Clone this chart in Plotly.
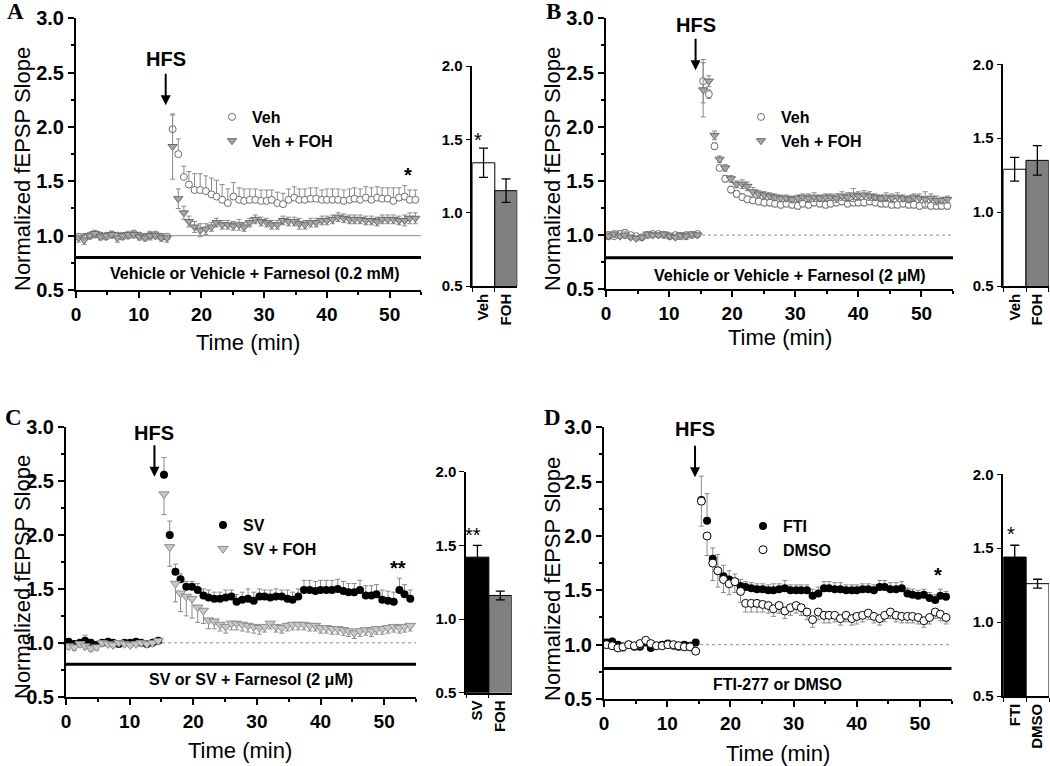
import plotly.graph_objects as go

# ---------------- data ----------------
t_base = [0.4, 1.3, 2.2, 3.0, 3.9, 4.8, 5.7, 6.6, 7.4, 8.3, 9.2, 10.1, 11.0, 11.8, 12.7, 13.6, 14.5]
t_post = [15.4, 16.3, 17.2, 18.0, 18.9, 19.8, 20.7, 21.6, 22.4, 23.3,
          24.2, 25.1, 26.0, 26.8, 27.7, 28.6, 29.5, 30.4, 31.2, 32.1,
          33.0, 33.9, 34.8, 35.6, 36.5, 37.4, 38.3, 39.2, 40.0, 40.9,
          41.8, 42.7, 43.6, 44.4, 45.3, 46.2, 47.1, 48.0, 48.8, 49.7,
          50.6, 51.5, 52.4, 53.2, 54.1]

# Panel A
a_veh_base = [0.99, 0.98, 1.00, 1.01, 1.00, 0.99, 1.01, 1.00, 0.99, 1.00, 1.02, 1.00, 0.99, 1.00, 1.01, 0.99, 0.99]
a_veh_base_err = [0.03, 0.04, 0.02, 0.03, 0.03, 0.02, 0.03, 0.02, 0.03, 0.02, 0.02, 0.03, 0.02, 0.03, 0.02, 0.03, 0.03]
a_veh_post = [1.98, 1.75, 1.54, 1.47, 1.42, 1.42, 1.41, 1.38, 1.36, 1.33,
              1.30, 1.36, 1.33, 1.32, 1.33, 1.33, 1.32, 1.32, 1.33, 1.30,
              1.29, 1.33, 1.35, 1.33, 1.33, 1.34, 1.34, 1.33, 1.33, 1.33,
              1.33, 1.32, 1.33, 1.34, 1.33, 1.35, 1.33, 1.35, 1.34, 1.34,
              1.32, 1.35, 1.36, 1.33, 1.33]
a_veh_post_err = [0.13, 0.14, 0.10, 0.12, 0.15, 0.15, 0.14, 0.15, 0.15, 0.14,
                  0.13, 0.13, 0.11, 0.11, 0.10, 0.10, 0.10, 0.10, 0.09, 0.10,
                  0.10, 0.10, 0.10, 0.10, 0.10, 0.10, 0.10, 0.09, 0.10, 0.10,
                  0.10, 0.10, 0.10, 0.10, 0.10, 0.10, 0.11, 0.10, 0.10, 0.10,
                  0.12, 0.09, 0.10, 0.09, 0.09]
a_foh_base = [0.98, 0.96, 1.00, 1.02, 0.99, 1.00, 1.01, 0.98, 1.00, 1.01, 1.01, 0.99, 0.98, 1.00, 1.00, 0.98, 0.98]
a_foh_base_err = [0.04, 0.04, 0.03, 0.03, 0.03, 0.03, 0.03, 0.04, 0.03, 0.03, 0.03, 0.03, 0.03, 0.04, 0.03, 0.03, 0.04]
a_foh_post = [1.82, 1.34, 1.21, 1.13, 1.08, 1.05, 1.06, 1.08, 1.12, 1.10,
              1.10, 1.09, 1.10, 1.08, 1.12, 1.15, 1.13, 1.12, 1.10, 1.10,
              1.14, 1.13, 1.13, 1.11, 1.10, 1.12, 1.12, 1.14, 1.14, 1.15,
              1.17, 1.16, 1.15, 1.15, 1.15, 1.14, 1.14, 1.13, 1.15, 1.15,
              1.15, 1.14, 1.14, 1.16, 1.16]
a_foh_post_err = [0.30, 0.09, 0.06, 0.05, 0.05, 0.06, 0.05, 0.04, 0.04, 0.04,
                  0.04, 0.04, 0.05, 0.04, 0.04, 0.04, 0.04, 0.04, 0.04, 0.04,
                  0.04, 0.04, 0.04, 0.05, 0.04, 0.04, 0.04, 0.04, 0.04, 0.04,
                  0.04, 0.04, 0.04, 0.04, 0.04, 0.04, 0.04, 0.04, 0.04, 0.04,
                  0.04, 0.04, 0.05, 0.05, 0.05]

# Panel B
b_veh_base = [1.00, 0.99, 1.01, 1.02, 1.00, 0.99, 0.98, 1.00, 1.01, 1.01, 1.00, 0.99, 1.00, 0.99, 1.00, 1.00, 1.01]
b_veh_base_err = [0.03, 0.02, 0.03, 0.03, 0.02, 0.02, 0.02, 0.02, 0.02, 0.02, 0.02, 0.02, 0.02, 0.03, 0.02, 0.02, 0.02]
b_veh_post = [2.42, 2.30, 1.82, 1.62, 1.52, 1.42, 1.38, 1.35, 1.33, 1.32,
              1.31, 1.30, 1.30, 1.29, 1.28, 1.29, 1.28, 1.27, 1.29, 1.28,
              1.30, 1.29, 1.28, 1.29, 1.30, 1.31, 1.29, 1.30, 1.30, 1.30,
              1.31, 1.30, 1.29, 1.29, 1.28, 1.28, 1.29, 1.28, 1.28, 1.27,
              1.28, 1.27, 1.27, 1.27, 1.27]
b_veh_post_err = [0.20, 0.04, 0.03, 0.02, 0.03, 0.03, 0.03, 0.03, 0.03, 0.03,
                  0.03, 0.03, 0.03, 0.03, 0.03, 0.03, 0.03, 0.03, 0.03, 0.03,
                  0.03, 0.03, 0.03, 0.03, 0.03, 0.03, 0.03, 0.03, 0.03, 0.03,
                  0.03, 0.03, 0.03, 0.03, 0.03, 0.03, 0.03, 0.03, 0.03, 0.03,
                  0.03, 0.03, 0.03, 0.03, 0.03]
b_foh_base = [0.99, 1.01, 0.99, 1.00, 0.98, 0.97, 0.98, 1.01, 1.00, 1.00, 1.01, 0.99, 0.98, 1.00, 0.99, 1.01, 1.00]
b_foh_base_err = [0.03, 0.03, 0.02, 0.03, 0.02, 0.02, 0.02, 0.02, 0.02, 0.02, 0.02, 0.02, 0.02, 0.02, 0.03, 0.02, 0.02]
b_foh_post = [2.34, 2.42, 1.92, 1.70, 1.62, 1.52, 1.47, 1.47, 1.45, 1.40,
              1.38, 1.37, 1.36, 1.35, 1.34, 1.34, 1.33, 1.34, 1.35, 1.34,
              1.35, 1.34, 1.35, 1.35, 1.34, 1.36, 1.35, 1.37, 1.36, 1.37,
              1.36, 1.35, 1.34, 1.35, 1.34, 1.35, 1.34, 1.33, 1.35, 1.34,
              1.33, 1.34, 1.32, 1.32, 1.33]
b_foh_post_err = [0.25, 0.05, 0.04, 0.03, 0.03, 0.03, 0.03, 0.04, 0.04, 0.04,
                  0.03, 0.03, 0.03, 0.03, 0.03, 0.03, 0.03, 0.03, 0.03, 0.04,
                  0.04, 0.03, 0.03, 0.03, 0.04, 0.04, 0.04, 0.06, 0.04, 0.04,
                  0.04, 0.03, 0.03, 0.04, 0.04, 0.04, 0.03, 0.03, 0.03, 0.04,
                  0.07, 0.04, 0.04, 0.03, 0.03]

# Panel C
c_sv_base = [1.01, 0.99, 1.00, 1.02, 1.00, 0.98, 1.00, 1.01, 1.00, 0.99, 1.00, 1.00, 1.01, 1.00, 0.99, 1.00, 1.02]
c_sv_base_err = [0.03, 0.03, 0.03, 0.05, 0.03, 0.03, 0.02, 0.02, 0.02, 0.02, 0.02, 0.02, 0.02, 0.02, 0.02, 0.02, 0.02]
c_sv_post = [2.56, 2.00, 1.66, 1.59, 1.52, 1.52, 1.49, 1.44, 1.42, 1.41,
             1.41, 1.42, 1.43, 1.38, 1.40, 1.41, 1.39, 1.43, 1.43, 1.42,
             1.43, 1.43, 1.41, 1.40, 1.43, 1.49, 1.49, 1.48, 1.49, 1.49,
             1.49, 1.50, 1.48, 1.47, 1.47, 1.49, 1.44, 1.44, 1.45, 1.40,
             1.39, 1.38, 1.49, 1.45, 1.41]
c_sv_post_err = [0.16, 0.13, 0.07, 0.05, 0.05, 0.05, 0.06, 0.06, 0.07, 0.06,
                 0.06, 0.07, 0.06, 0.07, 0.07, 0.09, 0.08, 0.07, 0.06, 0.07,
                 0.07, 0.06, 0.08, 0.07, 0.07, 0.09, 0.09, 0.09, 0.09, 0.09,
                 0.09, 0.09, 0.09, 0.08, 0.08, 0.09, 0.09, 0.09, 0.09, 0.09,
                 0.09, 0.09, 0.11, 0.09, 0.08]
c_foh_base = [0.97, 0.96, 0.99, 0.97, 0.95, 0.96, 1.00, 0.99, 0.98, 1.00, 0.99, 0.98, 0.99, 1.00, 0.99, 1.00, 1.02]
c_foh_base_err = [0.03, 0.03, 0.03, 0.03, 0.03, 0.03, 0.02, 0.02, 0.02, 0.02, 0.02, 0.02, 0.02, 0.02, 0.02, 0.02, 0.02]
c_foh_post = [2.38, 1.89, 1.55, 1.46, 1.43, 1.41, 1.33, 1.30, 1.21, 1.20,
              1.17, 1.15, 1.18, 1.18, 1.17, 1.16, 1.15, 1.14, 1.15, 1.18,
              1.15, 1.14, 1.16, 1.17, 1.17, 1.17, 1.16, 1.16, 1.14, 1.14,
              1.13, 1.13, 1.12, 1.11, 1.09, 1.11, 1.12, 1.11, 1.13, 1.13,
              1.14, 1.15, 1.14, 1.15, 1.16]
c_foh_post_err = [0.19, 0.18, 0.17, 0.17, 0.18, 0.18, 0.14, 0.12, 0.08, 0.07,
                  0.06, 0.06, 0.06, 0.06, 0.06, 0.06, 0.06, 0.06, 0.05, 0.05,
                  0.05, 0.05, 0.05, 0.05, 0.05, 0.05, 0.05, 0.05, 0.05, 0.05,
                  0.05, 0.05, 0.05, 0.05, 0.05, 0.05, 0.05, 0.05, 0.05, 0.05,
                  0.05, 0.05, 0.05, 0.05, 0.05]

# Panel D
d_fti_base = [1.02, 1.03, 1.00, 0.98, 1.00, 0.98, 0.98, 1.02, 0.97, 0.99, 1.00, 1.01, 0.99, 0.98, 1.00, 0.99, 1.02]
d_fti_base_err = [0.03, 0.03, 0.02, 0.03, 0.03, 0.03, 0.02, 0.02, 0.03, 0.02, 0.02, 0.02, 0.02, 0.03, 0.02, 0.02, 0.02]
d_fti_post = [2.33, 2.14, 1.79, 1.68, 1.63, 1.60, 1.58, 1.54, 1.53, 1.52,
              1.51, 1.51, 1.50, 1.50, 1.51, 1.52, 1.50, 1.50, 1.50, 1.50,
              1.45, 1.47, 1.52, 1.52, 1.51, 1.51, 1.50, 1.50, 1.50, 1.51,
              1.51, 1.50, 1.53, 1.53, 1.51, 1.51, 1.52, 1.47, 1.46, 1.45,
              1.46, 1.43, 1.41, 1.45, 1.44]
d_fti_post_err = [0.22, 0.25, 0.10, 0.15, 0.10, 0.08, 0.07, 0.06, 0.05, 0.05,
                  0.05, 0.05, 0.05, 0.06, 0.05, 0.07, 0.05, 0.05, 0.05, 0.05,
                  0.06, 0.06, 0.06, 0.06, 0.06, 0.06, 0.05, 0.05, 0.05, 0.05,
                  0.05, 0.05, 0.06, 0.06, 0.06, 0.06, 0.06, 0.05, 0.05, 0.05,
                  0.05, 0.05, 0.05, 0.06, 0.05]
d_dmso_base = [1.00, 0.99, 0.97, 0.98, 1.00, 0.99, 1.01, 1.04, 1.01, 0.99, 0.99, 1.00, 1.00, 0.99, 0.98, 0.98, 0.94]
d_dmso_base_err = [0.03, 0.03, 0.03, 0.04, 0.03, 0.03, 0.04, 0.03, 0.03, 0.03, 0.03, 0.03, 0.03, 0.03, 0.03, 0.03, 0.03]
d_dmso_post = [2.32, 2.00, 1.75, 1.68, 1.60, 1.56, 1.58, 1.49, 1.38, 1.38,
               1.38, 1.37, 1.36, 1.33, 1.36, 1.31, 1.34, 1.36, 1.34, 1.30,
               1.23, 1.30, 1.27, 1.27, 1.27, 1.24, 1.27, 1.24, 1.26, 1.27,
               1.29, 1.26, 1.24, 1.27, 1.30, 1.27, 1.26, 1.26, 1.26, 1.25,
               1.22, 1.25, 1.30, 1.28, 1.25]
d_dmso_post_err = [0.23, 0.18, 0.16, 0.15, 0.12, 0.10, 0.10, 0.10, 0.08, 0.08,
                   0.08, 0.07, 0.07, 0.07, 0.07, 0.07, 0.07, 0.07, 0.07, 0.07,
                   0.07, 0.07, 0.07, 0.07, 0.06, 0.06, 0.06, 0.06, 0.07, 0.06,
                   0.06, 0.06, 0.06, 0.06, 0.06, 0.06, 0.06, 0.06, 0.06, 0.06,
                   0.06, 0.06, 0.06, 0.06, 0.06]

# Inset bar charts (mean, SEM)
bar_a_cats = ["Veh", "FOH"]; bar_a_vals = [1.34, 1.15]; bar_a_err = [0.10, 0.08]
bar_b_cats = ["Veh", "FOH"]; bar_b_vals = [1.29, 1.35]; bar_b_err = [0.08, 0.10]
bar_c_cats = ["SV", "FOH"];  bar_c_vals = [1.42, 1.16]; bar_c_err = [0.08, 0.03]
bar_d_cats = ["FTI", "DMSO"]; bar_d_vals = [1.44, 1.26]; bar_d_err = [0.08, 0.03]

x_ticks = [0, 10, 20, 30, 40, 50]
x_minor = [5, 15, 25, 35, 45, 55]

# ---------------- layout helpers ----------------
W, H = 1050, 766
FONT = "Liberation Sans, Arial, sans-serif"
SERIF = "Liberation Serif, Times New Roman, serif"
ERRC = "#8a8a8a"

def dx(a, b):
    return [a / W, b / W]

def dy(top, bottom):
    return [1 - bottom / H, 1 - top / H]

fig = go.Figure()

def zeros(n):
    return [0] * n

def add_series(ax, name, legend, base, base_err, post, post_err, marker, direction):
    xs = t_base + t_post
    ys = base + post
    es = base_err + post_err
    n = len(ys)
    if direction == "up":
        err = dict(type="data", symmetric=False, array=es, arrayminus=zeros(n))
    elif direction == "down":
        err = dict(type="data", symmetric=False, array=zeros(n), arrayminus=es)
    else:
        err = dict(type="data", symmetric=True, array=es)
    err.update(color=ERRC, thickness=1, width=2.5)
    fig.add_trace(go.Scatter(
        x=xs, y=ys, mode="markers", name=name, legend=legend,
        xaxis="x" + ax, yaxis="y" + ax, marker=marker, error_y=err,
        cliponaxis=False))

def add_bars(ax, cats, vals, errs, colors):
    fig.add_trace(go.Bar(
        x=cats, y=vals, width=1, xaxis="x" + ax, yaxis="y" + ax,
        marker=dict(color=colors, line=dict(color="black", width=1)),
        error_y=dict(type="data", array=errs, color="black", thickness=1.3, width=4.5),
        showlegend=False))

circ_open_gray = dict(symbol="circle", size=7, color="white", line=dict(color="#6e6e6e", width=1))
tri_gray = dict(symbol="triangle-down", size=8, color="#a6a6a6", line=dict(color="#6a6a6a", width=1))
circ_black = dict(symbol="circle", size=8, color="black")
tri_light = dict(symbol="triangle-down", size=9, color="#c8c8c8", line=dict(color="#8c8c8c", width=1))
circ_open_black = dict(symbol="circle", size=8, color="white", line=dict(color="black", width=1))

# A
add_series("", "Veh", "legend", a_veh_base, a_veh_base_err, a_veh_post, a_veh_post_err, circ_open_gray, "up")
add_series("", "Veh + FOH", "legend", a_foh_base, a_foh_base_err, a_foh_post, a_foh_post_err, tri_gray, "both")
add_bars("2", bar_a_cats, bar_a_vals, bar_a_err, ["white", "#808080"])
# B
add_series("3", "Veh", "legend2", b_veh_base, b_veh_base_err, b_veh_post, b_veh_post_err, circ_open_gray, "both")
add_series("3", "Veh + FOH", "legend2", b_foh_base, b_foh_base_err, b_foh_post, b_foh_post_err, tri_gray, "both")
add_bars("4", bar_b_cats, bar_b_vals, bar_b_err, ["white", "#808080"])
# C
add_series("5", "SV", "legend3", c_sv_base, c_sv_base_err, c_sv_post, c_sv_post_err, circ_black, "up")
add_series("5", "SV + FOH", "legend3", c_foh_base, c_foh_base_err, c_foh_post, c_foh_post_err, tri_light, "down")
add_bars("6", bar_c_cats, bar_c_vals, bar_c_err, ["black", "#808080"])
# D
add_series("7", "FTI", "legend4", d_fti_base, d_fti_base_err, d_fti_post, d_fti_post_err, circ_black, "up")
add_series("7", "DMSO", "legend4", d_dmso_base, d_dmso_base_err, d_dmso_post, d_dmso_post_err, circ_open_black, "down")
add_bars("8", bar_d_cats, bar_d_vals, bar_d_err, ["black", "white"])

def main_x(dom, anchor):
    return dict(domain=dom, anchor=anchor, range=[0, 55], tickvals=x_ticks, ticks="outside",
                ticklen=6, tickwidth=2, tickcolor="black", showline=True, linewidth=2,
                linecolor="black", showgrid=False, zeroline=False, automargin=False,
                tickfont=dict(family=FONT, size=19, color="black", weight="bold"),
                minor=dict(tickvals=x_minor, ticks="outside", ticklen=3, tickwidth=1.5, tickcolor="black"))

def main_y(dom, anchor):
    return dict(domain=dom, anchor=anchor, range=[0.5, 3.0], tickvals=[0.5, 1.0, 1.5, 2.0, 2.5, 3.0],
                tickformat=".1f", ticks="outside", ticklen=6, tickwidth=2, tickcolor="black",
                showline=True, linewidth=2, linecolor="black", showgrid=False, zeroline=False,
                automargin=False,
                tickfont=dict(family=FONT, size=20, color="black", weight="bold"),
                minor=dict(tickvals=[0.75, 1.25, 1.75, 2.25, 2.75], ticks="outside", ticklen=3,
                           tickwidth=1.5, tickcolor="black"))

def bar_x(dom, anchor):
    return dict(domain=dom, anchor=anchor, type="category", range=[-0.5, 1.5], tickangle=-90,
                ticks="outside", tickson="boundaries", ticklen=4, tickwidth=1.3, tickcolor="black",
                showline=True, linewidth=1.5, linecolor="black", showgrid=False, automargin=False,
                tickfont=dict(family=FONT, size=15, color="black", weight="bold"))

def bar_y(dom, anchor):
    return dict(domain=dom, anchor=anchor, range=[0.5, 2.0], tickvals=[0.5, 1.0, 1.5, 2.0],
                tickformat=".1f", ticks="outside", ticklen=5, tickwidth=1.3, tickcolor="black",
                showline=True, linewidth=1.5, linecolor="black", showgrid=False, zeroline=False,
                automargin=False,
                tickfont=dict(family=FONT, size=15, color="black", weight="bold"))

layout = dict(
    template="none",
    width=W, height=H, margin=dict(l=0, r=0, t=0, b=0, autoexpand=False),
    paper_bgcolor="white", plot_bgcolor="rgba(0,0,0,0)", showlegend=True,
    xaxis=main_x(dx(76, 421), "y"), yaxis=main_y(dy(18.3, 290), "x"),
    xaxis2=bar_x(dx(472.3, 517.3), "y2"), yaxis2=bar_y(dy(66, 286), "x2"),
    xaxis3=main_x(dx(606, 953), "y3"), yaxis3=main_y(dy(18.3, 289.3), "x3"),
    xaxis4=bar_x(dx(1003.3, 1048.7), "y4"), yaxis4=bar_y(dy(64.3, 286), "x4"),
    xaxis5=main_x(dx(66, 416), "y5"), yaxis5=main_y(dy(427.3, 696.7), "x5"),
    xaxis6=bar_x(dx(466, 511.7), "y6"), yaxis6=bar_y(dy(471.7, 692.7), "x6"),
    xaxis7=main_x(dx(604, 951.7), "y7"), yaxis7=main_y(dy(427.3, 699), "x7"),
    xaxis8=bar_x(dx(1003.3, 1049), "y8"), yaxis8=bar_y(dy(474.3, 696), "x8"),
)

def leg(xp, yp):
    return dict(x=xp / W, y=1 - yp / H, xanchor="left", yanchor="top", bgcolor="rgba(0,0,0,0)",
                font=dict(family=FONT, size=16, color="black", weight="bold"),
                tracegroupgap=0, itemwidth=30)

layout["legend"] = leg(212, 100)
layout["legend2"] = leg(741, 100)
layout["legend3"] = leg(203, 508)
layout["legend4"] = leg(743, 509)
fig.update_layout(**layout)

# reference lines, drug bars, annotations
panels = [
    dict(x="x", y="y", dash="solid", drug=0.80, drug_txt="Vehicle or Vehicle + Farnesol (0.2 mM)",
         txt_x=28.4, txt_y=0.65, hfs_x=14.3, hfs_tip=2.20, hfs_txt_y=2.626, star="*", star_x=52.9, star_y=1.56,
         letter="A", lx=15, ly=12, xt=(248, 343), yt=(22, 169)),
    dict(x="x3", y="y3", dash="dot", drug=0.79, drug_txt="Vehicle or Vehicle + Farnesol (2 μM)",
         txt_x=29.2, txt_y=0.625, hfs_x=14.2, hfs_tip=2.52, hfs_txt_y=2.94, star=None,
         letter="B", lx=553, ly=12, xt=(780, 337), yt=(552, 169)),
    dict(x="x5", y="y5", dash="dot", drug=0.80, drug_txt="SV or SV + Farnesol (2 μM)",
         txt_x=29.0, txt_y=0.656, hfs_x=13.9, hfs_tip=2.54, hfs_txt_y=2.944, star="**", star_x=52.2, star_y=1.69,
         letter="C", lx=13, ly=418, xt=(240, 750), yt=(22, 577)),
    dict(x="x7", y="y7", dash="dot", drug=0.78, drug_txt="FTI-277 or DMSO",
         txt_x=27.5, txt_y=0.636, hfs_x=14.4, hfs_tip=2.54, hfs_txt_y=2.98, star="*", star_x=52.8, star_y=1.64,
         letter="D", lx=552, ly=418, xt=(778, 753), yt=(552, 579)),
]

def txt(x, y, text, font, xref="paper", yref="paper", **kw):
    d = dict(xref=xref, yref=yref, x=x, y=y, text=text, showarrow=False, font=font,
             xanchor="center", yanchor="middle")
    d.update(kw)
    return d

ann = []
for p in panels:
    fig.add_shape(type="line", xref=p["x"], yref=p["y"], x0=0, x1=55, y0=1.0, y1=1.0,
                  line=dict(color="#8c8c8c", width=1, dash=p["dash"]), layer="below")
    fig.add_shape(type="line", xref=p["x"], yref=p["y"], x0=0, x1=55, y0=p["drug"], y1=p["drug"],
                  line=dict(color="black", width=3))
    ann.append(txt(p["txt_x"], p["txt_y"], p["drug_txt"],
                   dict(family=FONT, size=16, color="black", weight="bold"), p["x"], p["y"]))
    ann.append(txt(p["hfs_x"], p["hfs_txt_y"], "HFS",
                   dict(family=FONT, size=20, color="black", weight="bold"), p["x"], p["y"]))
    ann.append(dict(xref=p["x"], yref=p["y"], x=p["hfs_x"], y=p["hfs_tip"], text="", showarrow=True,
                    ax=0, ay=-33, arrowhead=2, arrowsize=1, arrowwidth=2, arrowcolor="black"))
    if p["star"]:
        ann.append(txt(p["star_x"], p["star_y"], p["star"],
                       dict(family=FONT, size=20, color="black", weight="bold"), p["x"], p["y"]))
    ann.append(txt(p["lx"] / W, 1 - p["ly"] / H, p["letter"],
                   dict(family=SERIF, size=23, color="black", weight="bold")))
    ann.append(txt(p["xt"][0] / W, 1 - p["xt"][1] / H, "Time (min)",
                   dict(family=FONT, size=22, color="black")))
    ann.append(txt(p["yt"][0] / W, 1 - p["yt"][1] / H, "Normalized fEPSP Slope",
                   dict(family=FONT, size=22, color="black"), textangle=-90))

# bar asterisks
for sx, sy, s in [(478.3, 140, "*"), (473.3, 535, "**"), (1010.7, 534, "*")]:
    ann.append(txt(sx / W, 1 - sy / H, s, dict(family=FONT, size=20, color="black")))

fig.update_layout(annotations=ann)
fig.write_html("out.html", config={"displayModeBar": False},
               post_script="document.body.style.margin='0px';")
